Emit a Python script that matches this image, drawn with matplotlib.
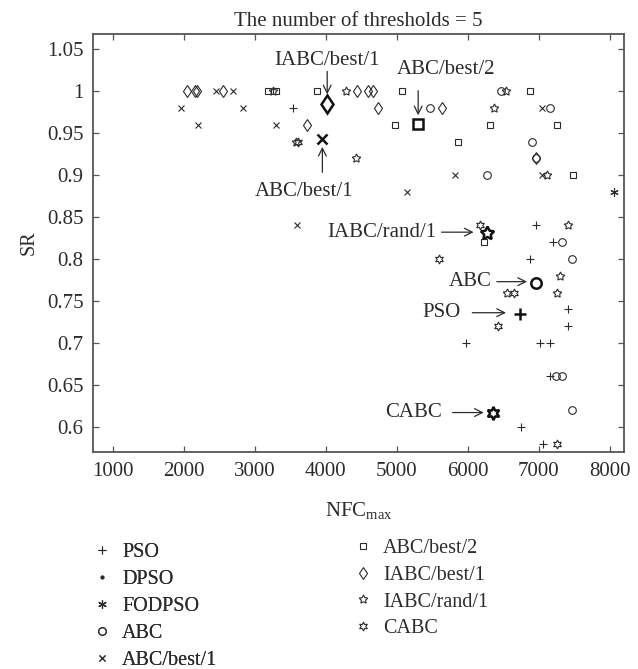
import matplotlib
matplotlib.use("Agg")
import matplotlib.pyplot as plt

plt.rcParams['font.family'] = ['Liberation Serif', 'DejaVu Serif']
plt.rcParams['mathtext.fontset'] = 'custom'
plt.rcParams['mathtext.rm'] = 'Liberation Serif'
plt.rcParams['mathtext.it'] = 'Liberation Serif:italic'

INK = '#2b2b2b'
AXC = '#555555'

# values: (NFC_max, SR)
pso_x = [3540, 6967, 7202, 6873, 7413, 7413, 5972, 7014, 7155, 7155, 6756, 7061]
pso_y = [0.98, 0.84, 0.82, 0.80, 0.74, 0.72, 0.70, 0.70, 0.70, 0.66, 0.60, 0.58]
dpso_x = []
dpso_y = []
fodpso_x = [8056]
fodpso_y = [0.88]
abc_x = [5465, 6474, 7164, 6911, 6967, 6263, 7320, 7469, 7249, 7333, 7469]
abc_y = [0.98, 1.00, 0.98, 0.94, 0.92, 0.90, 0.82, 0.80, 0.66, 0.66, 0.62]
abcb1_x = [1953, 2202, 2451, 2695, 2836, 3296, 3587, 5136, 5817, 7038, 7038]
abcb1_y = [0.98, 0.96, 1.00, 1.00, 0.98, 0.96, 0.84, 0.88, 0.90, 0.98, 0.90]
abcb2_x = [3188, 3296, 3878, 5066, 4972, 5863, 6319, 6873, 7258, 7484, 6225]
abcb2_y = [1.00, 1.00, 1.00, 1.00, 0.96, 0.94, 0.96, 1.00, 0.96, 0.90, 0.82]
iabcb1_x = [2047, 2155, 2188, 2545, 3737, 4432, 4596, 4666, 4737, 5630, 6967]
iabcb1_y = [1.00, 1.00, 1.00, 1.00, 0.96, 1.00, 1.00, 1.00, 0.98, 0.98, 0.92]
iabcr1_x = [3250, 4277, 3577, 4423, 6531, 6366, 7117, 7413, 7296, 7258, 6550]
iabcr1_y = [1.00, 1.00, 0.94, 0.92, 1.00, 0.98, 0.90, 0.84, 0.78, 0.76, 0.76]
cabc_x = [3600, 6169, 5596, 6650, 6427, 7263]
cabc_y = [0.94, 0.84, 0.80, 0.76, 0.72, 0.58]

# proposed settings, drawn bold
best_pso = (6732, 0.735)
best_abc = (6967, 0.771)
best_abcb1 = (3950, 0.943)
best_abcb2 = (5300, 0.961)
best_iabcb1 = (4018, 0.985)
best_iabcr1 = (6263, 0.831)
best_cabc = (6357, 0.617)

xticks = [1000, 2000, 3000, 4000, 5000, 6000, 7000, 8000]
yticks = [0.6, 0.65, 0.7, 0.75, 0.8, 0.85, 0.9, 0.95, 1, 1.05]
ytick_labels = ['0.6', '0.65', '0.7', '0.75', '0.8', '0.85', '0.9', '0.95', '1', '1.05']

STAR5 = (5, 1, 0)
STAR6 = (6, 1, 0)
ASTER = (6, 2, 0)

series = [
    ('PSO', pso_x, pso_y, '+', 6, 'full'),
    ('DPSO', dpso_x, dpso_y, '.', 4, 'full'),
    ('FODPSO', fodpso_x, fodpso_y, ASTER, 6, 'full'),
    ('ABC', abc_x, abc_y, 'o', 5.5, 'none'),
    ('ABC/best/1', abcb1_x, abcb1_y, 'x', 4.5, 'full'),
    ('ABC/best/2', abcb2_x, abcb2_y, 's', 5, 'none'),
    ('IABC/best/1', iabcb1_x, iabcb1_y, 'd', 6.5, 'none'),
    ('IABC/rand/1', iabcr1_x, iabcr1_y, STAR5, 6.5, 'none'),
    ('CABC', cabc_x, cabc_y, STAR6, 6.5, 'none'),
]

fig = plt.figure(figsize=(6.38, 6.69), dpi=100)
ax = fig.add_axes([0.146, 0.3244, 0.832, 0.6245])

handles = []
for name, xs, ys, mk, ms, fill in series:
    ln, = ax.plot(xs, ys, linestyle='none', marker=mk, markersize=ms,
                  markeredgewidth=0.8, color=INK, fillstyle=fill, label=name)
    handles.append(ln)

bold = [(best_pso, '+', 8.5), (best_abc, 'o', 7.5), (best_abcb1, 'x', 6.5),
        (best_abcb2, 's', 7), (best_iabcb1, 'd', 9.5), (best_iabcr1, STAR5, 10),
        (best_cabc, STAR6, 9.5)]
for (bx, by), mk, ms in bold:
    ax.plot([bx], [by], linestyle='none', marker=mk, markersize=ms,
            markeredgewidth=1.8, color='#111111', fillstyle='none')

# annotations
arrow = dict(arrowstyle='->', color=INK, lw=0.9, mutation_scale=14)
fs = 15
ax.text(4010, 1.037, 'IABC/best/1', ha='center', va='center', fontsize=fs, color=INK)
ax.annotate('', xy=(4018, 0.993), xytext=(4018, 1.027), arrowprops=arrow)
ax.text(5697, 1.026, 'ABC/best/2', ha='center', va='center', fontsize=fs, color=INK)
ax.annotate('', xy=(5300, 0.968), xytext=(5300, 1.004), arrowprops=arrow)
ax.text(3690, 0.881, 'ABC/best/1', ha='center', va='center', fontsize=fs, color=INK)
ax.annotate('', xy=(3950, 0.937), xytext=(3950, 0.900), arrowprops=arrow)
ax.text(5563, 0.832, 'IABC/rand/1', ha='right', va='center', fontsize=fs, color=INK)
ax.annotate('', xy=(6120, 0.832), xytext=(5590, 0.832), arrowprops=arrow)
ax.text(6338, 0.773, 'ABC', ha='right', va='center', fontsize=fs, color=INK)
ax.annotate('', xy=(6873, 0.773), xytext=(6370, 0.773), arrowprops=arrow)
ax.text(5901, 0.736, 'PSO', ha='right', va='center', fontsize=fs, color=INK)
ax.annotate('', xy=(6577, 0.736), xytext=(6024, 0.736), arrowprops=arrow)
ax.text(5634, 0.617, 'CABC', ha='right', va='center', fontsize=fs, color=INK)
ax.annotate('', xy=(6263, 0.617), xytext=(5746, 0.617), arrowprops=arrow)

ax.set_xlim(720, 8200)
ax.set_ylim(0.57, 1.068)
ax.set_xticks(xticks)
ax.set_yticks(yticks)
ax.set_yticklabels(ytick_labels)
ax.tick_params(direction='in', top=True, right=True, length=4, width=0.9,
               color=AXC, labelsize=15, labelcolor=INK, pad=7)
for sp in ax.spines.values():
    sp.set_color(AXC)
    sp.set_linewidth(1.3)

ax.set_title('The number of thresholds = 5', fontsize=15, color=INK, pad=6)
ax.set_xlabel(r'NFC$_{\mathrm{max}}$', fontsize=15, color=INK, labelpad=14)
ax.set_ylabel('SR', fontsize=14.5, color=INK, labelpad=6)

# legend split in two columns, like the original
leg_kw = dict(loc='upper left', frameon=False, fontsize=14.5, handlelength=1.0,
              handletextpad=0.5, labelspacing=0.39, borderaxespad=0, borderpad=0,
              labelcolor=INK)
leg1 = fig.legend(handles=handles[:5], bbox_to_anchor=(0.144, 0.188), **leg_kw)
fig.add_artist(leg1)
leg2 = fig.legend(handles=handles[5:], bbox_to_anchor=(0.553, 0.195), **leg_kw)

fig.savefig('out.png', dpi=100)
